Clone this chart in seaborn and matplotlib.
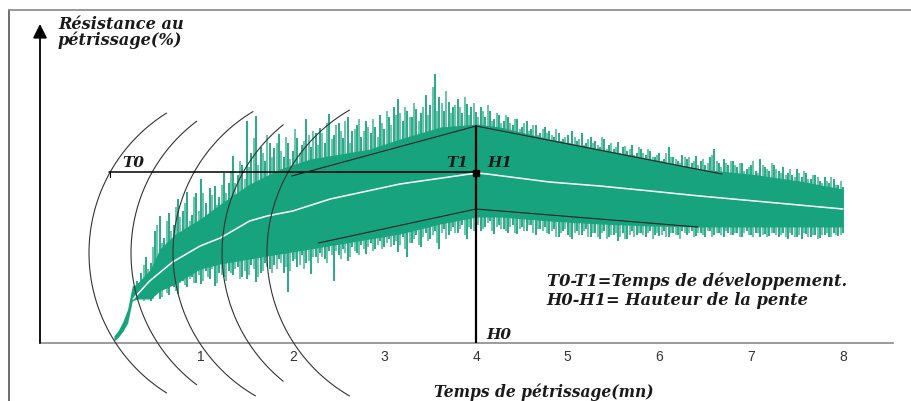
import numpy as np
import pandas as pd
import matplotlib
matplotlib.use("Agg")
import matplotlib.pyplot as plt
import seaborn as sns
from matplotlib.lines import Line2D

# ---------------- data ----------------
# time axis in minutes, resistance in arbitrary units (height above x axis)
tick_values = [1, 2, 3, 4, 5, 6, 7, 8]
tick_labels = ["1", "2", "3", "4", "5", "6", "7", "8"]

# dense core of the trace
t_core = [0.05, 0.10, 0.15, 0.20, 0.25, 0.30, 0.45, 0.55, 0.72, 0.99, 1.21, 1.53, 1.86,
          2.19, 2.52, 2.84, 3.17, 3.61, 4.01, 4.26, 4.80, 5.35, 5.90, 6.44, 6.99, 7.53, 8.00]
core_top = [7, 13, 22, 34, 57, 59, 74, 94, 109, 124, 139, 159, 174,
            184, 189, 194, 204, 216, 219, 216, 204, 194, 184, 174, 169, 162, 154]
core_bot = [2, 6, 12, 20, 42, 44, 44, 52, 59, 74, 79, 84, 89,
            94, 99, 104, 109, 119, 126, 126, 122, 119, 117, 116, 116, 116, 116]

# spikes of the trace, sampled every 0.05 min from 0.30 to 8.00 min
spk_t0, spk_dt = 0.30, 0.05
spk_top = [62, 70, 86, 80, 112, 127, 105, 130, 118, 144,
           132, 151, 128, 150, 164, 140, 155, 157, 146, 170,
           160, 187, 168, 178, 222, 190, 227, 196, 182, 200,
           195, 209, 186, 200, 192, 205, 198, 224, 196, 210,
           215, 200, 229, 208, 220, 205, 226, 212, 218, 206,
           222, 210, 216, 228, 214, 226, 236, 244, 222, 232,
           226, 234, 230, 248, 238, 269, 246, 232, 241, 236,
           244, 230, 239, 236, 231, 236, 226, 232, 224, 228,
           222, 226, 218, 224, 216, 222, 214, 218, 210, 216,
           212, 206, 210, 204, 208, 212, 202, 210, 200, 206,
           202, 196, 204, 198, 194, 201, 196, 192, 198, 190,
           194, 188, 192, 186, 190, 184, 196, 186, 182, 188,
           184, 180, 187, 182, 178, 186, 194, 180, 184, 178,
           182, 176, 180, 174, 178, 172, 184, 176, 172, 178,
           172, 176, 170, 168, 174, 166, 170, 164, 168, 162,
           166, 160, 164, 158, 156]
spk_bot = [44, 44, 44, 42, 50, 44, 55, 48, 56, 49,
           62, 56, 66, 60, 59, 72, 64, 57, 70, 66,
           72, 68, 76, 66, 64, 78, 61, 70, 80, 74,
           78, 84, 70, 51, 82, 76, 88, 80, 69, 86,
           90, 84, 92, 62, 88, 94, 82, 96, 90, 98,
           89, 100, 94, 102, 96, 104, 98, 91, 106, 86,
           100, 108, 96, 110, 104, 112, 94, 114, 108, 116,
           110, 118, 104, 114, 120, 112, 116, 122, 109, 118,
           114, 110, 118, 109, 116, 112, 118, 108, 114, 116,
           109, 114, 106, 112, 108, 104, 112, 108, 114, 106,
           110, 104, 112, 106, 108, 102, 110, 104, 112, 108,
           110, 106, 112, 108, 107, 112, 106, 110, 108, 112,
           108, 112, 107, 110, 106, 112, 108, 110, 106, 110,
           108, 110, 106, 112, 108, 110, 106, 109, 107, 110,
           106, 110, 104, 108, 106, 104, 109, 106, 108, 105,
           108, 106, 110, 107, 110]

# in-between spikes, every 0.05 min from 0.325 to 7.975 min
spk2_t0 = 0.325
spk2_top = [60, 78, 74, 96, 118, 100, 122, 112, 136, 126,
            140, 122, 146, 132, 150, 128, 148, 138, 158, 150,
            172, 160, 182, 164, 176, 205, 178, 190, 208, 186,
            200, 192, 206, 184, 214, 190, 202, 208, 212, 198,
            210, 220, 204, 218, 212, 222, 200, 214, 224, 212,
            216, 224, 206, 220, 232, 218, 228, 230, 236, 226,
            240, 222, 236, 228, 256, 232, 240, 252, 230, 238,
            236, 246, 228, 240, 226, 232, 238, 222, 230, 220,
            228, 220, 224, 214, 220, 212, 218, 208, 214, 210,
            208, 214, 202, 206, 200, 206, 204, 198, 204, 200,
            198, 206, 194, 200, 196, 190, 197, 194, 188, 196,
            190, 194, 186, 188, 182, 190, 186, 184, 180, 186,
            186, 182, 178, 184, 180, 188, 182, 176, 180, 182,
            178, 180, 172, 176, 182, 170, 178, 174, 180, 174,
            170, 168, 174, 166, 170, 172, 164, 168, 166, 160,
            162, 166, 158, 162]
spk2_bot = [46, 42, 48, 44, 52, 46, 50, 58, 52, 60,
            58, 64, 60, 68, 62, 66, 74, 60, 68, 62,
            70, 74, 64, 72, 68, 74, 66, 72, 76, 70,
            74, 80, 76, 72, 84, 78, 74, 82, 86, 80,
            86, 80, 88, 92, 84, 90, 86, 92, 88, 94,
            96, 92, 98, 94, 100, 96, 102, 98, 94, 100,
            104, 98, 106, 102, 108, 100, 110, 104, 112, 110,
            114, 108, 116, 112, 118, 114, 120, 112, 116, 114,
            112, 116, 110, 114, 112, 118, 110, 114, 112, 110,
            112, 106, 110, 114, 106, 110, 108, 112, 106, 110,
            106, 110, 104, 108, 110, 106, 104, 108, 106, 110,
            108, 110, 104, 110, 108, 106, 110, 108, 104, 110,
            110, 106, 110, 108, 112, 106, 110, 108, 112, 108,
            110, 106, 110, 108, 106, 110, 108, 106, 110, 108,
            108, 106, 110, 106, 108, 110, 106, 108, 104, 108,
            110, 106, 108, 108]

# smoothed mean curve (white line)
t_mean = [0.26, 0.44, 0.69, 0.99, 1.21, 1.53, 1.72, 2.00, 2.41, 3.17, 4.01, 4.12,
          4.80, 5.35, 5.90, 6.44, 8.00]
mean_v = [44, 62, 81, 97, 105, 122, 127, 132, 144, 159, 170, 169,
          161, 157, 152, 147, 134]

# construction lines
t_dev_start, t_dev_end = 0.0, 4.0
level_T = 171
peak_top = 217
peak_bot = 134
upper_left = (1.99, 167)
upper_right = (6.68, 169)
lower_left = (2.28, 100)
lower_right = (6.42, 116)

# concentric arcs (centre time, centre height, radius in px, angle range)
arc_centres = [1.578, 2.036, 2.494, 3.029, 3.519]
arc_theta = [(122, 238), (127, 233), (121, 240), (129, 231), (120, 240)]
arc_cv, arc_r = 90, 165

# ---------------- figure ----------------
W, H = 912, 402
sns.set_theme(style="white")
plt.rcParams["font.family"] = ["DejaVu Sans"]
fig = plt.figure(figsize=(W / 100, H / 100), dpi=100)
ax = fig.add_axes([40 / W, 58 / H, 853 / W, 319 / H])
x0, x1 = -0.756, 8.547
ax.set_xlim(x0, x1)
ax.set_ylim(0, 319)
px_per_min = 853 / (x1 - x0)

GREEN = "#18a37f"
LIGHT = "#3fb592"
serif = dict(family="DejaVu Serif", weight="bold", style="italic", color="#1a1a1a")

# trace: spikes first, dense core on top
t_spk = spk_t0 + spk_dt * np.arange(len(spk_top))
t_spk2 = spk2_t0 + spk_dt * np.arange(len(spk2_top))
ax.vlines(t_spk2, spk2_bot, spk2_top, color=LIGHT, lw=1.1, zorder=2)
ax.vlines(t_spk, spk_bot, spk_top, color=GREEN, lw=1.3, zorder=2.1)
ax.fill_between(t_core, core_bot, core_top, color=GREEN, lw=0, zorder=2.5)
sns.lineplot(x=t_mean, y=mean_v, color="white", lw=1.1, ax=ax, zorder=3)

# arcs
for tc, (a1, a2) in zip(arc_centres, arc_theta):
    th = np.deg2rad(np.linspace(a1, a2, 120))
    ax.plot(tc + arc_r * np.cos(th) / px_per_min, arc_cv + arc_r * np.sin(th),
            color="#333333", lw=0.8, clip_on=False, zorder=4)

# construction lines
ax.plot([t_dev_start, t_dev_end], [level_T, level_T], color="black", lw=1.1, zorder=5)
ax.plot([t_dev_start + 0.01, t_dev_start + 0.01], [level_T, level_T - 5], color="black", lw=0.8, zorder=5)
ax.plot([t_dev_end, t_dev_end], [0, peak_top], color="black", lw=1.6, zorder=5)
ax.plot([upper_left[0], t_dev_end, upper_right[0]], [upper_left[1], peak_top, upper_right[1]],
        color="#222222", lw=0.8, zorder=5)
ax.plot([lower_left[0], t_dev_end, lower_right[0]], [lower_left[1], peak_bot, lower_right[1]],
        color="#222222", lw=0.8, zorder=5)
ax.plot([t_dev_end], [level_T - 1], marker="s", ms=5, color="black", zorder=6)

# labels on the construction
ax.text(0.14, 176.5, "T0", fontsize=11, ha="left", va="baseline", zorder=6, **serif)
ax.text(3.67, 177, "T1", fontsize=11, ha="left", va="baseline", zorder=6, **serif)
ax.text(4.12, 177, "H1", fontsize=11, ha="left", va="baseline", zorder=6, **serif)
ax.text(4.11, 5, "H0", fontsize=11, ha="left", va="baseline", zorder=6, **serif)
ax.text(4.77, 58, "T0-T1=Temps de développement.", fontsize=11.7, ha="left", va="baseline", **serif)
ax.text(4.77, 39, "H0-H1= Hauteur de la pente", fontsize=11.7, ha="left", va="baseline", **serif)

# axes styling
for s in ["top", "right", "left"]:
    ax.spines[s].set_visible(False)
ax.spines["bottom"].set_color("#8a8a8a")
ax.spines["bottom"].set_linewidth(1.2)
ax.set_xticks(tick_values)
ax.set_xticklabels(tick_labels, family="Liberation Sans")
ax.set_yticks([])
ax.tick_params(axis="x", direction="in", length=5, width=1, color="#777777",
               labelsize=10, labelcolor="#333333", pad=4)
ax.annotate("", xy=(0, 1), xytext=(0, 0), xycoords="axes fraction",
            arrowprops=dict(arrowstyle="-|>,head_width=0.35,head_length=0.7",
                            lw=1.3, color="black", shrinkA=0, shrinkB=0))

# axis titles
fig.text(58 / W, 1 - 29 / H, "Résistance au", fontsize=11.6, ha="left", va="baseline", **serif)
fig.text(58 / W, 1 - 45 / H, "pétrissage(%)", fontsize=11.6, ha="left", va="baseline", **serif)
fig.text(544 / W, 5 / H, "Temps de pétrissage(mn)", fontsize=11.2, ha="center", va="baseline", **serif)

# picture frame (top and left edges)
fig.add_artist(Line2D([9 / W, 9 / W], [0, 1 - 11 / H], transform=fig.transFigure, color="#555555", lw=1.2))
fig.add_artist(Line2D([9 / W, 1], [1 - 11 / H, 1 - 11 / H], transform=fig.transFigure, color="#888888", lw=1.2))

fig.savefig("out.png", dpi=100)
